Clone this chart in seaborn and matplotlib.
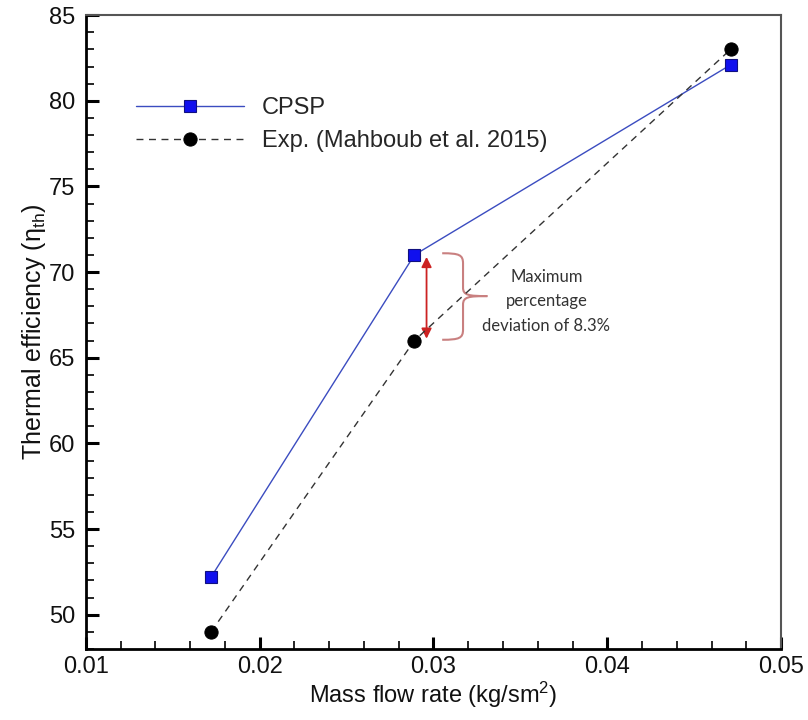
import numpy as np
import pandas as pd
import matplotlib
matplotlib.use("Agg")
import matplotlib.pyplot as plt
from matplotlib.path import Path
from matplotlib.patches import PathPatch, FancyArrowPatch
from matplotlib.ticker import MultipleLocator, FormatStrFormatter
import seaborn as sns

# ---- data ----
mass_flow = [0.0172, 0.0289, 0.0471]
cpsp = [52.2, 71.0, 82.1]
exp_vals = [49.0, 66.0, 83.0]
series_names = ["CPSP", "Exp. (Mahboub et al. 2015)"]
x_ticks = [0.01, 0.02, 0.03, 0.04, 0.05]
y_ticks = [50, 55, 60, 65, 70, 75, 80, 85]
annotation_text = "Maximum\npercentage\ndeviation of 8.3%"

df = pd.DataFrame({
    "x": mass_flow * 2,
    "y": cpsp + exp_vals,
    "series": [series_names[0]] * 3 + [series_names[1]] * 3,
})

sns.set_theme(style="white")
plt.rcParams["font.family"] = ["Liberation Sans", "DejaVu Sans"]
plt.rcParams["mathtext.fontset"] = "custom"
plt.rcParams["mathtext.rm"] = "Liberation Sans"
plt.rcParams["mathtext.it"] = "Liberation Sans"
plt.rcParams["mathtext.default"] = "regular"

fig = plt.figure(figsize=(8.08, 7.2), dpi=100)
ax = fig.add_axes([0.1064, 0.0986, 0.8602, 0.8804])

d1 = df[df.series == series_names[0]]
d2 = df[df.series == series_names[1]]
sns.lineplot(data=d1, x="x", y="y", ax=ax, color="#3b4cc0", lw=1.0,
             marker="s", markersize=8.5, markerfacecolor="#1010ee",
             markeredgecolor="#101080", markeredgewidth=0.8, label=series_names[0])
sns.lineplot(data=d2, x="x", y="y", ax=ax, color="#333333", lw=1.0,
             linestyle=(0, (5, 4)), marker="o", markersize=9.5,
             markerfacecolor="black", markeredgecolor="black",
             label=series_names[1])

ax.set_xlim(0.01, 0.05)
ax.set_ylim(48, 85)
ax.set_xticks(x_ticks)
ax.xaxis.set_major_formatter(FormatStrFormatter("%.2f"))
ax.xaxis.set_minor_locator(MultipleLocator(0.002))
ax.set_yticks(y_ticks)
ax.yaxis.set_minor_locator(MultipleLocator(1))
ax.tick_params(axis="both", which="major", direction="in", length=9, width=2.2,
               labelsize=17, color="black", labelcolor="#111111", pad=5)
ax.tick_params(axis="y", which="major", pad=8)
ax.tick_params(axis="both", which="minor", direction="in", length=6, width=1.2,
               color="black")
ax.tick_params(axis="x", which="both", bottom=True, top=False)
ax.tick_params(axis="y", which="both", left=True, right=False)

for side in ["left", "bottom"]:
    ax.spines[side].set_linewidth(2.0)
    ax.spines[side].set_color("black")
for side in ["top", "right"]:
    ax.spines[side].set_linewidth(1.5)
    ax.spines[side].set_color("#555555")

ax.set_xlabel("Mass flow rate (kg/sm$^2$)", fontsize=17, color="#111111", labelpad=1)
ax.set_ylabel("Thermal efficiency (η$_{th}$)", fontsize=18, color="#111111", labelpad=0)

leg = ax.legend(loc="upper left", bbox_to_anchor=(0.058, 0.885), frameon=False,
                fontsize=17, handlelength=4.6, handletextpad=0.75, labelspacing=0.45,
                borderaxespad=0)

# ---- annotation: red double arrow ----
arr = FancyArrowPatch((0.0296, 71.05), (0.0296, 65.95), arrowstyle="<|-|>",
                      mutation_scale=15, color="#cc2222", lw=1.3)
ax.add_patch(arr)

# ---- brace ----
xl, xm, xt = 0.0305, 0.0317, 0.0331
yt, ymid, yb = 71.1, 68.6, 66.05
verts = [
    (xl, yt), (xm - 0.0002, yt), (xm, yt - 0.1), (xm, yt - 0.6),
    (xm, ymid + 0.5),
    (xm, ymid + 0.05), (xm + 0.0003, ymid), (xt, ymid),
    (xm + 0.0003, ymid), (xm, ymid - 0.05), (xm, ymid - 0.5),
    (xm, yb + 0.6),
    (xm, yb + 0.1), (xm - 0.0002, yb), (xl, yb),
]
codes = [Path.MOVETO, Path.CURVE4, Path.CURVE4, Path.CURVE4,
         Path.LINETO,
         Path.CURVE4, Path.CURVE4, Path.CURVE4,
         Path.CURVE4, Path.CURVE4, Path.CURVE4,
         Path.LINETO,
         Path.CURVE4, Path.CURVE4, Path.CURVE4]
ax.add_patch(PathPatch(Path(verts, codes), fill=False, edgecolor="#c98080", lw=1.5))

ax.text(0.0365, 68.3, annotation_text, ha="center", va="center",
        fontsize=12, color="#333333", family=["Lato", "DejaVu Sans"],
        linespacing=1.65)

fig.savefig("out.png", dpi=100)
